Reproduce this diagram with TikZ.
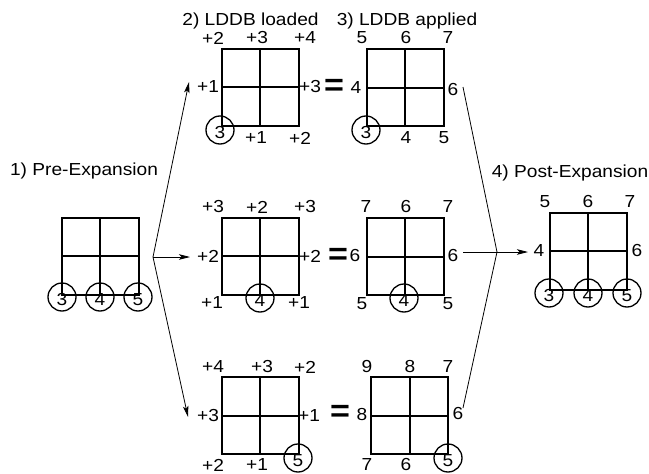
\documentclass[tikz,border=0pt]{standalone}
\usepackage{fontspec}
\setmainfont{Liberation Sans}[FakeStretch=1.1]
\usetikzlibrary{arrows.meta}
\begin{document}
\begin{tikzpicture}[x=1pt,y=-1pt,
  lbl/.style={font=\fontsize{17.4}{20}\selectfont, inner sep=0pt},
  ttl/.style={lbl, anchor=base},
  gridbox/.style={draw, line width=2pt, minimum size=77pt, inner sep=0pt, outer sep=0pt},
  gridline/.style={line width=2pt},
  ring/.style={draw, circle, line width=1.3pt, minimum size=28pt, inner sep=0pt, text height=17.5pt, text depth=0pt, font=\fontsize{17.4}{20}\selectfont},
  eqsign/.style={font=\fontsize{31}{31}\selectfont\bfseries, inner sep=0pt},
  conn/.style={line width=0.8pt},
  arr/.style={conn, -{Stealth[length=11pt,width=5.5pt,inset=2.5pt]}}]
\useasboundingbox (0,0) rectangle (649,474);

% titles
\node[ttl] (ttl1) at (84,175) {1) Pre-Expansion};
\node[ttl] (ttl2) at (250.5,25) {2) LDDB loaded};
\node[ttl] (ttl3) at (407,25) {3) LDDB applied};
\node[ttl] (ttl4) at (570,177) {4) Post-Expansion};

% pre-expansion
\node[gridbox] (g0) at (100,256) {};
\draw[gridline] (g0.north) -- (g0.south) (g0.west) -- (g0.east);
\node[ring] (c0a) at (62,297) {3};
\node[ring] (c0b) at (100,297) {4};
\node[ring] (c0c) at (138,297) {5};

% top row, loaded
\node[gridbox] (t2) at (260,87) {};
\draw[gridline] (t2.north) -- (t2.south) (t2.west) -- (t2.east);
\node[lbl] (t2tl) at (213,38) {+2};
\node[lbl] (t2tm) at (257,38) {+3};
\node[lbl] (t2tr) at (305,38) {+4};
\node[lbl] (t2l) at (208,87) {+1};
\node[lbl] (t2r) at (310,87) {+3};
\node[lbl] (t2bm) at (256,138) {+1};
\node[lbl] (t2br) at (300,138) {+2};
\node[ring] (t2c) at (220,130) {3};
\node[eqsign] (e1) at (334,87) {=};

% top row, applied
\node[gridbox] (t3) at (405,87.5) {};
\draw[gridline] (t3.north) -- (t3.south) (t3.west) -- (t3.east);
\node[lbl] (t3tl) at (362,38) {5};
\node[lbl] (t3tm) at (406,38) {6};
\node[lbl] (t3tr) at (448,38) {7};
\node[lbl] (t3l) at (356,88) {4};
\node[lbl] (t3r) at (453,90) {6};
\node[lbl] (t3bm) at (406,138) {4};
\node[lbl] (t3br) at (444,138) {5};
\node[ring] (t3c) at (366,130) {3};

% middle row, loaded
\node[gridbox] (m2) at (260,256) {};
\draw[gridline] (m2.north) -- (m2.south) (m2.west) -- (m2.east);
\node[lbl] (m2tl) at (213,207) {+3};
\node[lbl] (m2tm) at (257,207) {+2};
\node[lbl] (m2tr) at (305,207) {+3};
\node[lbl] (m2l) at (208,256) {+2};
\node[lbl] (m2r) at (310,256) {+2};
\node[lbl] (m2bl) at (212,303) {+1};
\node[lbl] (m2br) at (299,303) {+1};
\node[ring] (m2c) at (260,298) {4};
\node[eqsign] (e2) at (338,256) {=};

% middle row, applied
\node[gridbox] (m3) at (405,256.5) {};
\draw[gridline] (m3.north) -- (m3.south) (m3.west) -- (m3.east);
\node[lbl] (m3tl) at (366,207) {7};
\node[lbl] (m3tm) at (406,207) {6};
\node[lbl] (m3tr) at (448,207) {7};
\node[lbl] (m3l) at (355,256) {6};
\node[lbl] (m3r) at (453,256) {6};
\node[lbl] (m3bl) at (362,304) {5};
\node[lbl] (m3br) at (448,304) {5};
\node[ring] (m3c) at (404,298) {4};

% bottom row, loaded
\node[gridbox] (b2) at (260,415.5) {};
\draw[gridline] (b2.north) -- (b2.south) (b2.west) -- (b2.east);
\node[lbl] (b2tl) at (213,367) {+4};
\node[lbl] (b2tm) at (262,367) {+3};
\node[lbl] (b2tr) at (305,367) {+2};
\node[lbl] (b2l) at (208,416) {+3};
\node[lbl] (b2r) at (309,416) {+1};
\node[lbl] (b2bl) at (213,465) {+2};
\node[lbl] (b2bm) at (257,465) {+1};
\node[ring] (b2c) at (298,458) {5};
\node[eqsign] (e3) at (340,413) {=};

% bottom row, applied
\node[gridbox] (b3) at (409.5,415.5) {};
\draw[gridline] (b3.north) -- (b3.south) (b3.west) -- (b3.east);
\node[lbl] (b3tl) at (367,367) {9};
\node[lbl] (b3tm) at (410,367) {8};
\node[lbl] (b3tr) at (448,367) {7};
\node[lbl] (b3l) at (362,415) {8};
\node[lbl] (b3r) at (458,414) {6};
\node[lbl] (b3bl) at (367,465) {7};
\node[lbl] (b3bm) at (406,465) {6};
\node[ring] (b3c) at (448,458) {5};

% post-expansion
\node[gridbox] (gp) at (588,251) {};
\draw[gridline] (gp.north) -- (gp.south) (gp.west) -- (gp.east);
\node[lbl] (gptl) at (545,202) {5};
\node[lbl] (gptm) at (588,202) {6};
\node[lbl] (gptr) at (630,202) {7};
\node[lbl] (gpl) at (539,251) {4};
\node[lbl] (gpr) at (637,251) {6};
\node[ring] (gpa) at (549,293) {3};
\node[ring] (gpb) at (588,293) {4};
\node[ring] (gpc) at (627,293) {5};

% connectors left
\coordinate (fork) at (153,257);
\coordinate (tA) at (189,82);
\coordinate (tB) at (190,257);
\coordinate (tC) at (188,417);
\draw[arr] (fork) -- (tA);
\draw[arr] (fork) -- (tB);
\draw[arr] (fork) -- (tC);

% connectors right
\coordinate (sA) at (463,87);
\coordinate (sB) at (463,252);
\coordinate (sC) at (463,408);
\coordinate (join) at (497,252);
\coordinate (tD) at (528,252);
\draw[conn] (sA) -- (join) -- (sC);
\draw[arr] (sB) -- (tD);
\end{tikzpicture}
\end{document}
